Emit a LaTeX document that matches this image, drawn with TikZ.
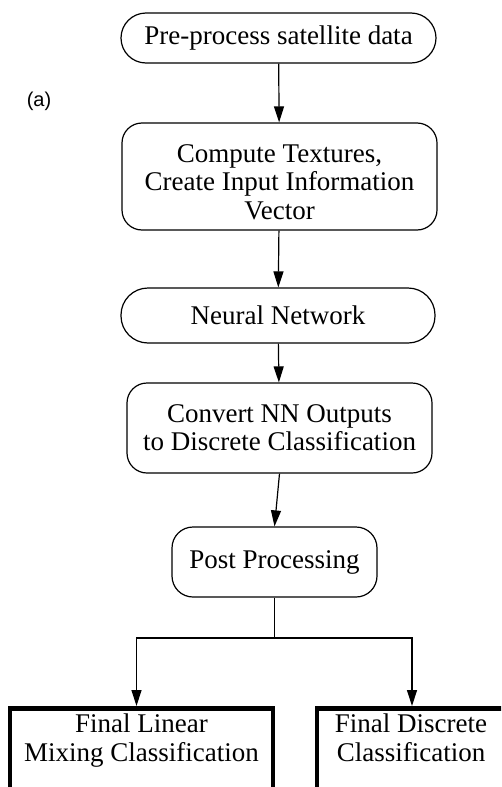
\documentclass[tikz,border=0pt]{standalone}
\usepackage{fontspec}
\setmainfont{Liberation Serif}
\setsansfont{Liberation Sans}
\usetikzlibrary{arrows.meta,positioning}

\begin{document}
\begin{tikzpicture}[x=1pt, y=-1pt,
  flowbox/.style={draw, line width=1.2pt, align=center, inner sep=0pt,
    font=\fontsize{27}{28.3}\selectfont},
  finalbox/.style={draw, line width=4.5pt, align=center, inner sep=5pt, anchor=north,
    text height=48pt, text depth=80pt, font=\fontsize{27}{28.3}\selectfont},
  flowarrow/.style={-{Triangle[length=16pt, width=10pt]}, line width=1.2pt}]
  % Page frame
  \useasboundingbox (0,0) rectangle (501,787);
  \clip (0,0) rectangle (501,787);

  % Panel tag
  \node[font=\sffamily\fontsize{20}{24}\selectfont] (tag) at (39,101) {(a)};

  % Main chain of processing steps
  \node[flowbox, minimum width=315pt, minimum height=50pt, rounded corners=25pt] (prep) at (278.5,38) {Pre-process satellite data};
  \node[flowbox, minimum width=315pt, minimum height=107pt, rounded corners=20pt, text height=86pt] (tex) at (279.5,176.5) {Compute Textures,\\Create Input Information\\Vector};
  \node[flowbox, minimum width=314pt, minimum height=55pt, rounded corners=27pt] (nn) at (278,315.5) {Neural Network};
  \node[flowbox, minimum width=305pt, minimum height=90pt, rounded corners=20pt] (conv) at (279.5,428) {Convert NN Outputs\\to Discrete Classification};
  \node[flowbox, minimum width=205pt, minimum height=70pt, rounded corners=21pt] (post) at (274.5,562) {Post Processing};

  % Two final products (cut by the page edge)
  \node[finalbox, minimum width=263pt] (lin) at (141.5,706) {Final Linear\\Mixing Classification};
  \node[finalbox, minimum width=188pt] (disc) at (411,706) {Final Discrete\\Classification};

  % Arrows between steps
  \draw[flowarrow] (prep) -- (tex);
  \draw[flowarrow] (tex) -- (nn);
  \draw[flowarrow] (nn) -- (conv);
  \draw[flowarrow] (conv.south) -- (post.north);

  % Split into the two outputs
  \coordinate (split) at (274.5,638);
  \draw[line width=1.2pt] (post.south) -- (split);
  \draw[flowarrow] (split) -| ([xshift=-5pt]lin.north);
  \draw[flowarrow] (split) -| ([xshift=1pt]disc.north);
\end{tikzpicture}
\end{document}
